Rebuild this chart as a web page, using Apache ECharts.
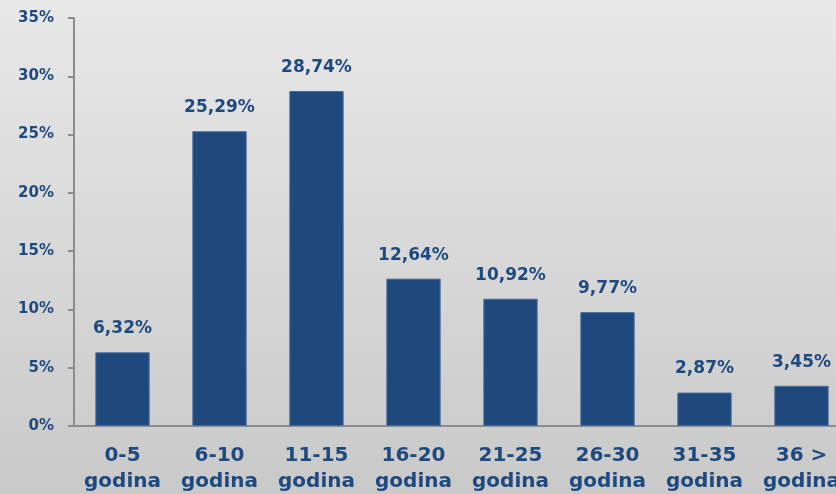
<!DOCTYPE html>
<html>
<head>
<meta charset="utf-8">
<script src="https://cdn.jsdelivr.net/npm/echarts@6/dist/echarts.min.js"></script>
<style>
  html, body { margin: 0; padding: 0; }
  #chart { width: 836px; height: 494px; }
</style>
</head>
<body>
<div id="chart"></div>
<script>
  var categories = ['0-5\ngodina', '6-10\ngodina', '11-15\ngodina', '16-20\ngodina',
    '21-25\ngodina', '26-30\ngodina', '31-35\ngodina', '36 >\ngodina'];
  var values = [6.32, 25.29, 28.74, 12.64, 10.92, 9.77, 2.87, 3.45];
  var yTicks = [0, 5, 10, 15, 20, 25, 30, 35];

  var textColor = '#1f4a7f';
  var font = 'DejaVu Sans';

  var chart = echarts.init(document.getElementById('chart'));
  chart.setOption({
    backgroundColor: {
      type: 'linear', x: 0, y: 0, x2: 0, y2: 1,
      colorStops: [{offset: 0, color: '#e8e8e8'}, {offset: 1, color: '#c9c9c9'}]
    },
    animation: false,
    // plot runs past the right edge like the cropped original
    grid: {left: 74, width: 776, top: 18, bottom: 68, containLabel: false, outerBoundsMode: 'none'},
    xAxis: {
      type: 'category',
      data: categories,
      axisLine: {lineStyle: {color: '#8c8c8c', width: 2}},
      axisTick: {length: 6, lineStyle: {color: '#8c8c8c', width: 2}},
      axisLabel: {
        interval: 0,
        margin: 17,
        color: textColor,
        fontFamily: font,
        fontWeight: 'bold',
        fontSize: 20,
        lineHeight: 26
      }
    },
    yAxis: {
      type: 'value',
      min: yTicks[0],
      max: yTicks[yTicks.length - 1],
      interval: 5,
      splitLine: {show: false},
      axisLine: {show: true, lineStyle: {color: '#8c8c8c', width: 2}},
      axisTick: {show: true, length: 6, lineStyle: {color: '#8c8c8c', width: 2}},
      axisLabel: {
        margin: 20,
        color: textColor,
        fontFamily: font,
        fontWeight: 'bold',
        fontSize: 15,
        formatter: function (v) { return v + '%'; }
      }
    },
    series: [{
      type: 'bar',
      data: values,
      barWidth: '56%',
      itemStyle: {color: '#1f497d', borderColor: '#4a6c98', borderWidth: 1},
      label: {
        show: true,
        position: 'top',
        distance: 15,
        color: textColor,
        fontFamily: font,
        fontWeight: 'bold',
        fontSize: 17,
        formatter: function (p) { return p.value.toFixed(2).replace('.', ',') + '%'; }
      }
    }]
  });
</script>
</body>
</html>
